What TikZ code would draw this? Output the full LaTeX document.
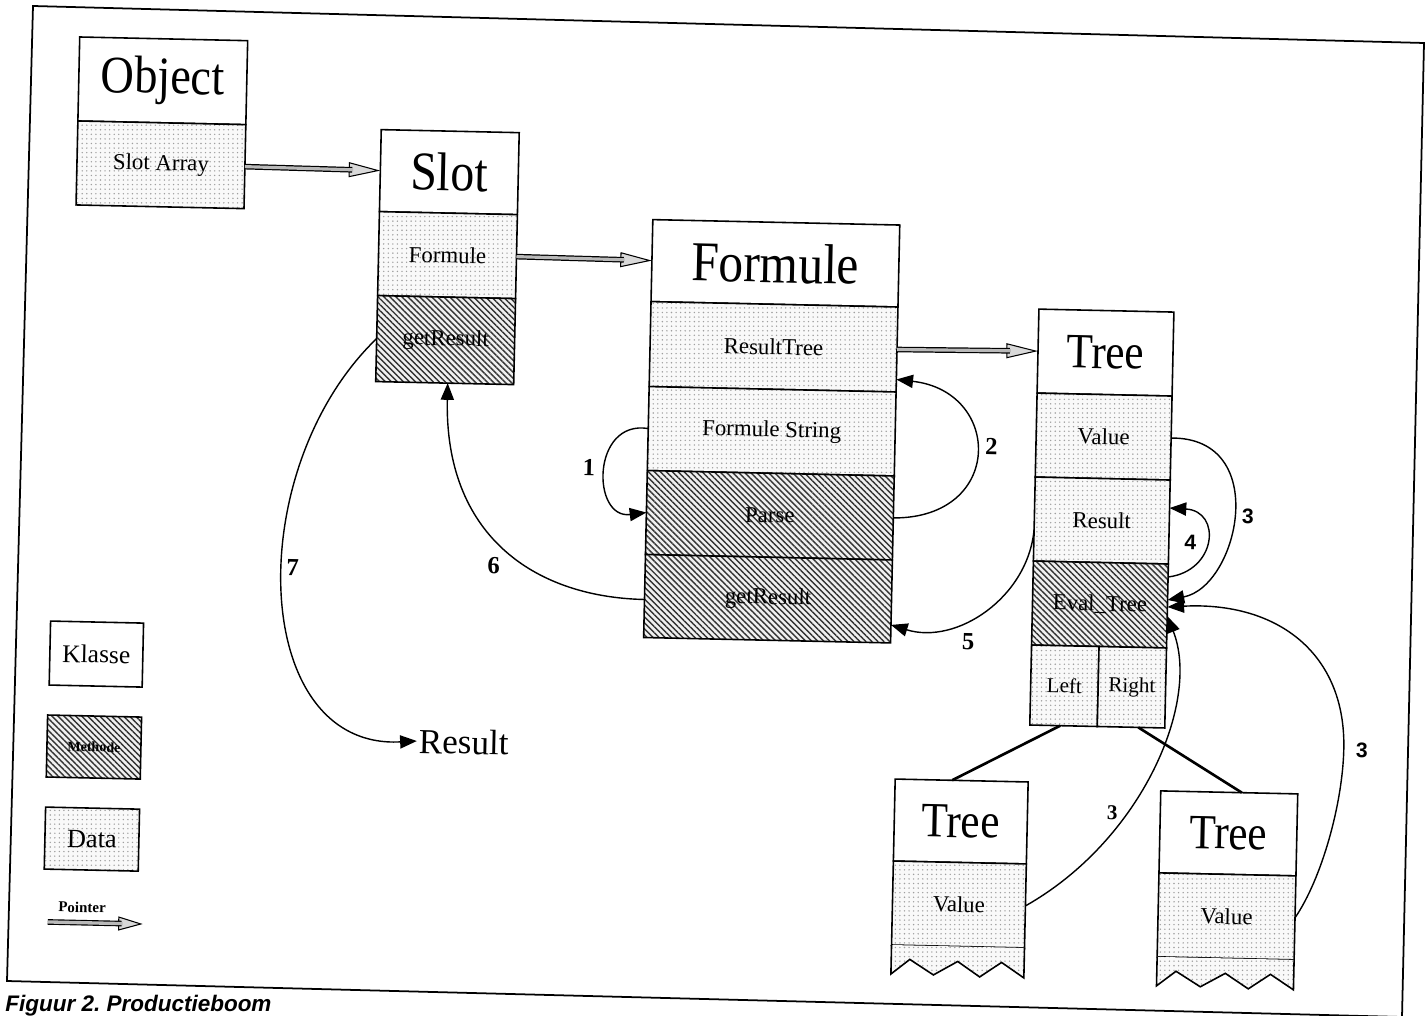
\documentclass[tikz,border=0pt]{standalone}
\usepackage{fontspec}
\setmainfont{Liberation Serif}
\setsansfont{Liberation Sans}
\newfontfamily\titlefont[FakeStretch=0.88]{Liberation Serif}
\usetikzlibrary{arrows.meta,patterns.meta}
\newcommand\pxu{0.02cm}
\frenchspacing
\begin{document}
\begin{tikzpicture}[x=0.02cm, y=-0.02cm,
  cell/.style={draw, line width=0.9pt, inner sep=0pt, outer sep=0pt},
  wh/.style 2 args={minimum width=#1*\pxu, minimum height=#2*\pxu},
  classcell/.style={cell, fill=white, font=\titlefont\fontsize{#1}{#1}\selectfont},
  classcell/.default=30,
  dotfill/.style={preaction={fill=gray!5}, pattern={Dots[distance=2.6pt,radius=0.45pt]}, pattern color=gray!75},
  hatchfill/.style={preaction={fill=gray!12}, pattern={Lines[angle=-45,distance=2.4pt,line width=0.8pt]}, pattern color=black!80},
  datacell/.style={cell, dotfill, font=\fontsize{13}{15}\selectfont},
  methodcell/.style={cell, hatchfill, font=\fontsize{13}{15}\selectfont},
  tail/.style={draw, line width=0.9pt, line join=miter, dotfill},
  flow/.style={line width=0.8pt, -{Triangle[length=9.5pt,width=7.5pt]}},
  pointer/.style={line width=0.6pt,
    -{Triangle[length=18pt,width=8.5pt,fill=gray!30,line width=0.6pt]},
    postaction={draw,-,line width=3.2pt,black,shorten >=16pt},
    postaction={draw,-,line width=1.8pt,gray!55,shorten >=15.5pt}},
  pointersmall/.style={line width=0.6pt,
    -{Triangle[length=14pt,width=8pt,fill=gray!30,line width=0.6pt]},
    postaction={draw,-,line width=3.2pt,black,shorten >=12pt},
    postaction={draw,-,line width=1.9pt,gray!55,shorten >=11.5pt}},
  treeedge/.style={line width=1.5pt},
  num/.style={font=\bfseries\fontsize{14}{16}\selectfont, inner sep=0pt},
  numsf/.style={font=\sffamily\bfseries\fontsize{12}{14}\selectfont, inner sep=0pt}
]
\useasboundingbox (0,0) rectangle (1426,1016);

% page frame and caption
\draw[line width=1pt] (33,6) -- (1424,43) -- (1402,1017) -- (7,981) -- cycle;
\node[anchor=base west, inner sep=0pt, font=\sffamily\bfseries\itshape\fontsize{12.8}{15}\selectfont] (cap) at (5,1011) {Figuur 2. Productieboom};

\begin{scope}[rotate around={-1.26:(713,508)}, transform shape]

% class Object
\node[classcell, wh={168}{84}] (objT) at (153.5,93) {Object};
\node[datacell, wh={168}{84}] (objF) at (153.5,177) {Slot Array};

% class Slot
\node[classcell=31, wh={138}{82}] (slotT) at (442,178) {Slot};
\node[datacell, wh={138}{84}] (slotF) at (442,261) {Formule};
\node[methodcell, wh={138}{86}] (slotM) at (442,346) {getResult};

% class Formule
\node[classcell=32, wh={247}{82}] (fT) at (770,262) {Formule};
\node[datacell, wh={247}{85}] (fRT) at (770,345.5) {ResultTree};
\node[datacell, wh={247}{84}] (fFS) at (770,430) {Formule String};
\node[methodcell, wh={247}{84}] (fP) at (770,514) {Parse};
\node[methodcell, wh={247}{83}] (fG) at (770,597.5) {getResult};

% class Tree
\node[classcell=28, wh={135}{84}] (tT) at (1102,344) {Tree};
\node[datacell, wh={135}{84}] (tV) at (1102,428) {Value};
\node[datacell, wh={135}{84}] (tR) at (1102,512) {Result};
\node[methodcell, wh={135}{84}] (tE) at (1102,596) {Eval\_Tree};
\node[datacell, wh={67.5}{80}, font=\fontsize{12}{14}\selectfont] (tL) at (1068.25,678) {Left};
\node[datacell, wh={67.5}{80}, font=\fontsize{12}{14}\selectfont] (tRt) at (1135.75,678) {Right};

% left subtree
\node[classcell=28, wh={133}{82}] (ltT) at (967.6,816) {Tree};
\node[datacell, wh={133}{84}] (ltV) at (967.6,899) {Value};
\path[tail] (901.1,941) -- (901.1,970) -- (919.7,955) -- (943.6,970) -- (967.6,956)
  -- (989.9,971) -- (1011.5,956) -- (1034.1,971) -- (1034.1,941);

% right subtree
\node[classcell=28, wh={137}{82}] (rtT) at (1235.4,822) {Tree};
\node[datacell, wh={137}{84}] (rtV) at (1235.4,905) {Value};
\path[tail] (1166.9,947) -- (1166.9,976) -- (1186.1,961) -- (1210.7,976) -- (1235.4,962)
  -- (1258.7,977) -- (1280.6,962) -- (1303.9,977) -- (1303.9,947);

% legend
\node[cell, fill=white, wh={93}{64}, font=\fontsize{14.5}{16}\selectfont] (lgK) at (99.7,667.6) {Klasse};
\node[cell, hatchfill, wh={94}{62}, font=\bfseries\fontsize{8}{9}\selectfont] (lgM) at (99.3,760.6) {Methode};
\node[cell, dotfill, wh={94}{62}, font=\fontsize{15}{17}\selectfont] (lgD) at (99.3,852.7) {Data};
\node[font=\bfseries\fontsize{8.5}{10}\selectfont, inner sep=0pt] (lgP) at (91,921) {Pointer};
\coordinate (lgP0) at (57,936.5);
\coordinate (lgP1) at (152,936.5);
\draw[pointersmall] (lgP0) -- (lgP1);

% result output
\node[font=\fontsize{20}{22}\selectfont, inner sep=1pt] (res) at (469,747.5) {Result};

% connector end points on box edges
\coordinate (c2e) at (893.5,375.5);
\coordinate (c6s) at (646.5,601);
\coordinate (c6e) at (445,389);
\coordinate (c5s) at (1034.5,522.5);
\coordinate (c5e) at (893.5,621);
\coordinate (c4s) at (1169.5,567);
\coordinate (c4e) at (1169.5,498);
\coordinate (c3ae) at (1169.5,590);
\coordinate (c3be) at (1169.5,606);
\coordinate (c3ce) at (1169.5,597);
\coordinate (c3cm) at (1349,735);
\coordinate (te1s) at (1065,718);
\coordinate (te1e) at (958,775);
\coordinate (te2s) at (1143,718);
\coordinate (te2e) at (1248,781);

% pointers
\draw[pointer] (objF.east) -- (slotT.west);
\draw[pointer] (slotF.east) -- (fT.west);
\draw[pointer] (fRT.east) -- (tT.west);

% tree links
\draw[treeedge] (te1s) -- (te1e);
\draw[treeedge] (te2s) -- (te2e);

% numbered calls
\draw[flow] (fFS.west) .. controls +(-57,-8) and +(-55,8) .. (fP.west);
\draw[flow] (fP.east) .. controls +(111,-2) and +(106.5,9.5) .. (c2e);
\draw[flow] (c6s) .. controls +(-111.5,0) and +(0,151) .. (c6e);
\draw[flow] (slotM.west) .. controls +(-133,134) and +(-167,12.5) .. (res.west);
\draw[flow] (c5s) .. controls +(-4.5,67.5) and +(66.5,19) .. (c5e);
\draw[flow] (c4s) .. controls +(48.5,-7) and +(52.5,2) .. (c4e);
\draw[flow] (tV.east) .. controls +(100.5,-3) and +(70.5,-15) .. (c3ae);
\draw[flow] (ltV.east) .. controls +(116,-69) and +(35.5,84) .. (c3be);
\draw[flow] (rtV.east) .. controls +(26,-40) and +(0,55) .. (c3cm)
  .. controls +(0,-95) and +(110.5,-8) .. (c3ce);

% call numbers
\node[num] (n1) at (588,470) {1};
\node[num] (n2) at (990,440) {2};
\node[numsf] (n3a) at (1248,505) {3};
\node[numsf] (n4) at (1191,532) {4};
\node[num] (n5) at (971,636) {5};
\node[num] (n6) at (495,570) {6};
\node[num] (n7) at (294,577) {7};
\node[num, font=\bfseries\fontsize{12}{14}\selectfont] (n3b) at (1119,804) {3};
\node[numsf] (n3c) at (1367,736) {3};

\end{scope}
\end{tikzpicture}
\end{document}
